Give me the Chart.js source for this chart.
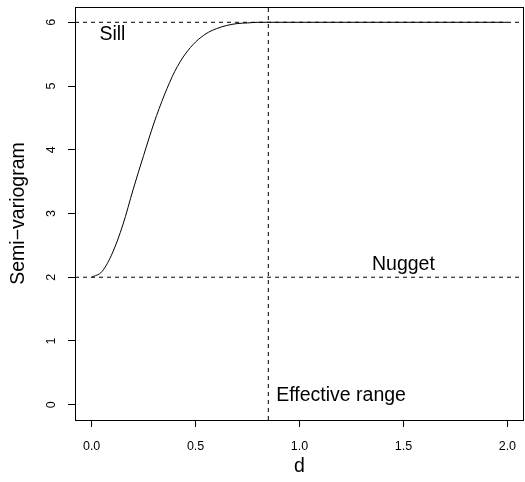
<!DOCTYPE html>
<html>
<head>
<meta charset="utf-8">
<script src="https://cdn.jsdelivr.net/npm/chart.js@4/dist/chart.umd.min.js"></script>
<style>
  html, body { margin: 0; padding: 0; background: #fff; }
  #wrap { width: 525px; height: 482px; }
</style>
</head>
<body>
<div id="wrap"><canvas id="vario"></canvas></div>
<script>
// --- données ---
const dVals = [0, 0.05, 0.1, 0.15, 0.2, 0.25, 0.3, 0.35, 0.4, 0.45, 0.5, 0.55, 0.6, 0.65, 0.7, 0.75, 0.8, 0.85, 0.9, 1.0, 1.5, 2.0];
const semiVals = [2.00, 2.09, 2.38, 2.82, 3.38, 3.91, 4.42, 4.86, 5.23, 5.50, 5.69, 5.82, 5.90, 5.95, 5.98, 5.99, 6.00, 6.00, 6.00, 6.00, 6.00, 6.00];

const sill = 6;
const nugget = 2;
const effectiveRange = 0.85;

const xTicks = [0, 0.5, 1.0, 1.5, 2.0];
const yTicks = [0, 1, 2, 3, 4, 5, 6];
const xLimits = [-0.08, 2.08];
const yLimits = [-0.24, 6.24];

// textes posés dans le graphique (coordonnées en unités des axes)
const notes = [
    { text: 'Sill', x: 0.1, y: 5.8 },
    { text: 'Nugget', x: 1.5, y: 2.2 },
    { text: 'Effective range', x: 1.2, y: 0.15 }
];

const FONT = 'Liberation Sans, Arial, Helvetica, sans-serif';

const curve = dVals.map((d, i) => ({ x: d, y: semiVals[i] }));
const hLine = v => [{ x: xLimits[0], y: v }, { x: xLimits[1], y: v }];
const vLine = v => [{ x: v, y: yLimits[0] }, { x: v, y: yLimits[1] }];

const dashed = {
    showLine: true, borderColor: '#000', borderWidth: 1, borderDash: [4, 4],
    pointRadius: 0, fill: false
};

// cadre et textes façon R
const boxPlugin = {
    id: 'boxPlugin',
    afterDraw(chart) {
        const { ctx, chartArea: a, scales } = chart;
        ctx.save();
        ctx.strokeStyle = '#000';
        ctx.lineWidth = 1;
        ctx.strokeRect(Math.round(a.left) + 0.5, Math.round(a.top) + 0.5,
            Math.round(a.right - a.left) - 1, Math.round(a.bottom - a.top));
        ctx.fillStyle = '#000';
        ctx.font = '19.5px ' + FONT;
        ctx.textAlign = 'center';
        ctx.textBaseline = 'middle';
        notes.forEach(n => {
            ctx.fillText(n.text, scales.x.getPixelForValue(n.x), scales.y.getPixelForValue(n.y));
        });
        ctx.restore();
    }
};

new Chart(document.getElementById('vario'), {
    type: 'scatter',
    data: {
        datasets: [
            { data: curve, showLine: true, borderColor: '#000', borderWidth: 1, pointRadius: 0,
              cubicInterpolationMode: 'monotone', fill: false },
            Object.assign({ data: hLine(sill) }, dashed),
            Object.assign({ data: hLine(nugget) }, dashed),
            Object.assign({ data: vLine(effectiveRange) }, dashed)
        ]
    },
    options: {
        responsive: true,
        maintainAspectRatio: false,
        animation: false,
        events: [],
        layout: { padding: { top: 7, right: 1, bottom: 0, left: 0 } },
        plugins: { legend: { display: false }, tooltip: { enabled: false } },
        scales: {
            x: {
                type: 'linear', min: xLimits[0], max: xLimits[1],
                afterBuildTicks: s => { s.ticks = xTicks.map(v => ({ value: v })); },
                afterFit: s => { s.height = 62; s.paddingLeft = 0; s.paddingRight = 0; },
                border: { display: false },
                grid: { drawOnChartArea: false, drawTicks: true, tickLength: 7, color: '#000' },
                ticks: {
                    autoSkip: false, maxRotation: 0, minRotation: 0, padding: 12,
                    color: '#000', font: { family: FONT, size: 12.5 },
                    callback: v => v.toFixed(1)
                },
                title: { display: true, text: 'd', color: '#000', font: { family: FONT, size: 19.5 },
                         padding: { top: 0, bottom: 4 } }
            },
            y: {
                type: 'linear', min: yLimits[0], max: yLimits[1],
                afterBuildTicks: s => { s.ticks = yTicks.map(v => ({ value: v })); },
                afterFit: s => { s.width = 75; s.paddingTop = 0; s.paddingBottom = 0; },
                border: { display: false },
                grid: { drawOnChartArea: false, drawTicks: true, tickLength: 7, color: '#000' },
                ticks: {
                    autoSkip: false, minRotation: 90, maxRotation: 90, crossAlign: 'center', padding: 13,
                    color: '#000', font: { family: FONT, size: 12.5 },
                    callback: v => String(v)
                },
                title: { display: true, text: 'Semi\u2212variogram', color: '#000', font: { family: FONT, size: 19.5 },
                         padding: { top: 7, bottom: 0 } }
            }
        }
    },
    plugins: [boxPlugin]
});
</script>
</body>
</html>
